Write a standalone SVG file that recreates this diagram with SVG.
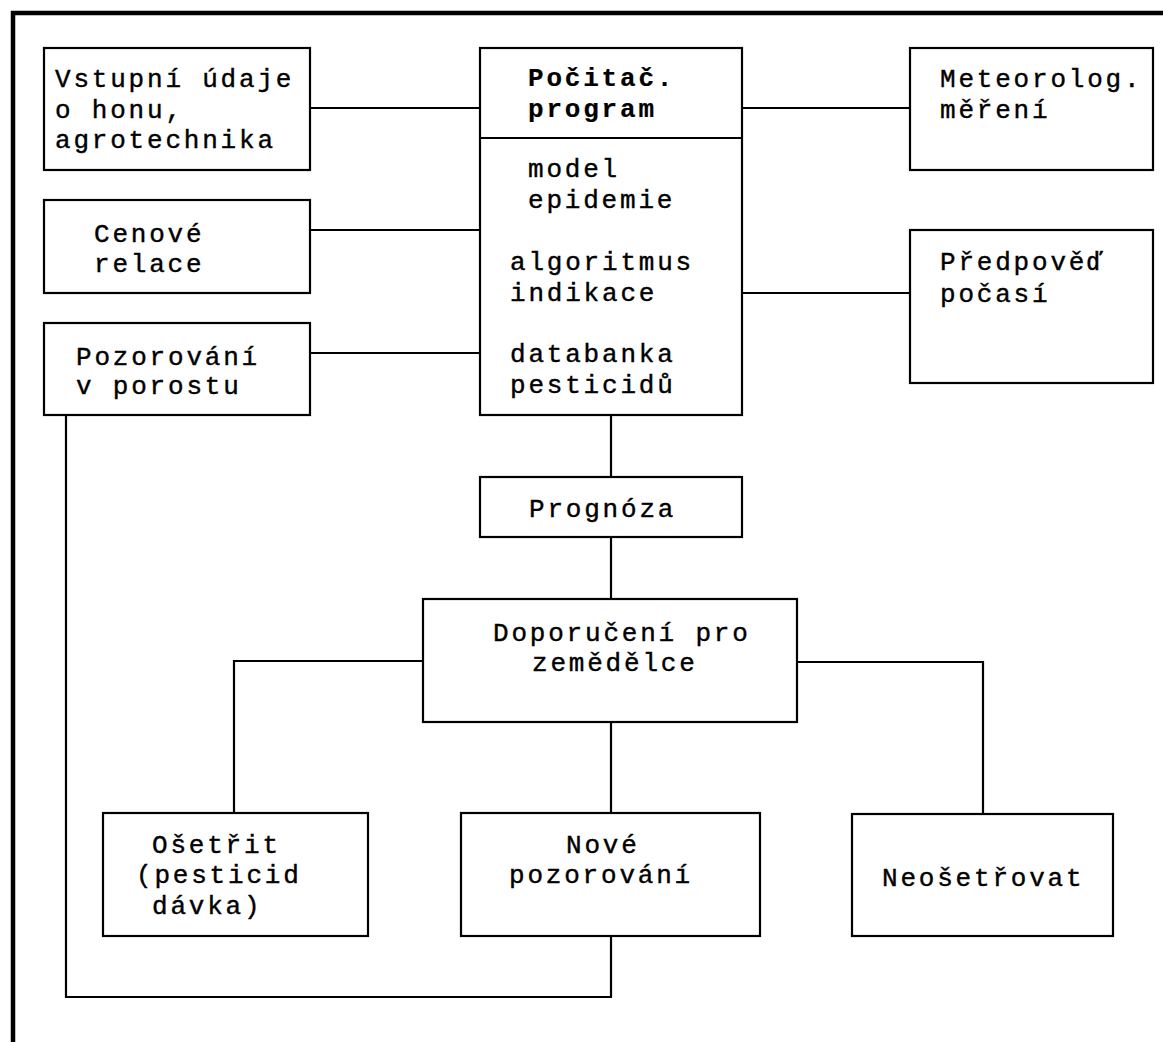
<svg xmlns="http://www.w3.org/2000/svg" width="1163" height="1042" viewBox="0 0 1163 1042">
<style>
.box{fill:#fff;stroke:#000;stroke-width:2.2}
.ln{fill:none;stroke:#000;stroke-width:2.2}
text{font-family:"Liberation Mono","Courier New",monospace;font-size:26px;letter-spacing:2.8px;fill:#000;stroke:#000;stroke-width:0.4}
.b{font-weight:bold;stroke-width:0.2}
</style>
<rect width="1163" height="1042" fill="#fff"/>
<path d="M13,1042 V13 H1163" fill="none" stroke="#000" stroke-width="4.5"/>
<g id="connectors">
<path class="ln" d="M310,108 H480"/>
<path class="ln" d="M742,108 H910"/>
<path class="ln" d="M310,230 H480"/>
<path class="ln" d="M742,293 H910"/>
<path class="ln" d="M310,353 H480"/>
<path class="ln" d="M611,415 V477"/>
<path class="ln" d="M611,537 V599"/>
<path class="ln" d="M423,661 H234 V813"/>
<path class="ln" d="M797,662 H983 V814"/>
<path class="ln" d="M611,722 V813"/>
<path class="ln" d="M66,415 V997 H611 V936"/>
</g>
<g id="vstup">
<rect class="box" x="44" y="48" width="266" height="122"/>
<text x="55" y="87">Vstupní údaje</text>
<text x="55" y="118">o honu,</text>
<text x="55" y="148">agrotechnika</text>
</g>
<g id="program">
<rect class="box" x="480" y="48" width="262" height="367"/>
<path class="ln" d="M480,138 H742"/>
<text class="b" x="528" y="86">Počitač.</text>
<text class="b" x="528" y="117">program</text>
<text x="528" y="177">model</text>
<text x="528" y="208">epidemie</text>
<text x="510" y="270">algoritmus</text>
<text x="510" y="301">indikace</text>
<text x="510" y="362">databanka</text>
<text x="510" y="393">pesticidů</text>
</g>
<g id="meteo">
<rect class="box" x="910" y="48" width="243" height="122"/>
<text x="940" y="87">Meteorolog.</text>
<text x="940" y="118">měření</text>
</g>
<g id="cenove">
<rect class="box" x="44" y="200" width="266" height="93"/>
<text x="94" y="242">Cenové</text>
<text x="94" y="272">relace</text>
</g>
<g id="predpoved">
<rect class="box" x="910" y="230" width="243" height="153"/>
<text x="940" y="270">Předpověď</text>
<text x="940" y="302">počasí</text>
</g>
<g id="pozorovani">
<rect class="box" x="44" y="323" width="266" height="92"/>
<text x="76" y="365">Pozorování</text>
<text x="76" y="394">v porostu</text>
</g>
<g id="prognoza">
<rect class="box" x="480" y="477" width="262" height="60"/>
<text x="529" y="517">Prognóza</text>
</g>
<g id="doporuceni">
<rect class="box" x="423" y="599" width="374" height="123"/>
<text x="493" y="641">Doporučení pro</text>
<text x="532" y="671">zemědělce</text>
</g>
<g id="osetrit">
<rect class="box" x="103" y="813" width="265" height="123"/>
<text x="152" y="853">Ošetřit</text>
<text x="136" y="883">(pesticid</text>
<text x="152" y="914">dávka)</text>
</g>
<g id="nove">
<rect class="box" x="461" y="813" width="299" height="123"/>
<text x="566" y="853">Nové</text>
<text x="509" y="883">pozorování</text>
</g>
<g id="neosetrovat">
<rect class="box" x="852" y="814" width="261" height="122"/>
<text x="882" y="886">Neošetřovat</text>
</g>
</svg>
